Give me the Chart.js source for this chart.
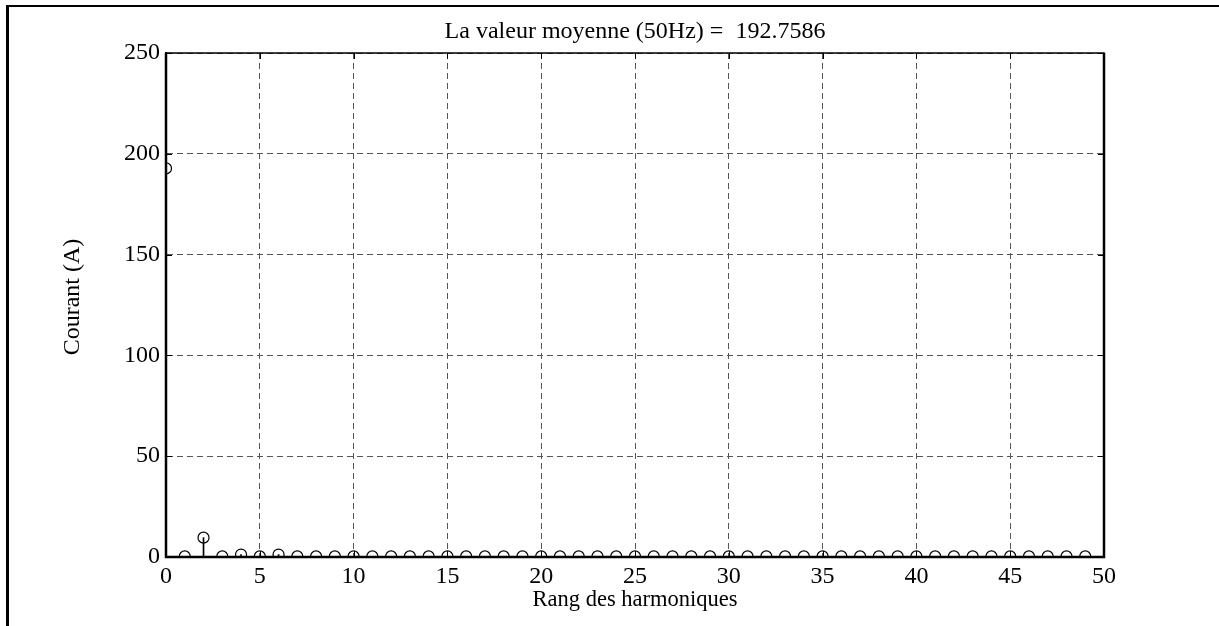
<!DOCTYPE html>
<html>
<head>
<meta charset="utf-8">
<script src="https://cdn.jsdelivr.net/npm/chart.js@4"></script>
<style>
    html, body { margin: 0; padding: 0; background: #fff; overflow: hidden; }
    .figure-frame {
        position: absolute;
        left: 6px;
        top: 5px;
        width: 1210px;
        height: 640px;
        border-top: 2px solid #000;
        border-left: 3px solid #000;
        border-right: 1px solid #d0d0d0;
    }
    #wrap { position: absolute; left: 0; top: 0; width: 1219px; height: 626px; }
</style>
</head>
<body>
<div class="figure-frame"></div>
<div id="wrap"><canvas id="harmChart" width="1219" height="626"></canvas></div>
<script>
    // harmonic rank 0..49 and current amplitude (A)
    const harmonicRanks = [
        0, 1, 2, 3, 4, 5, 6, 7, 8, 9,
        10, 11, 12, 13, 14, 15, 16, 17, 18, 19,
        20, 21, 22, 23, 24, 25, 26, 27, 28, 29,
        30, 31, 32, 33, 34, 35, 36, 37, 38, 39,
        40, 41, 42, 43, 44, 45, 46, 47, 48, 49
    ];
    const currentValues = [
        192.7586, 0.3, 9.6, 0.3, 1.2, 0.3, 1.2, 0.3, 0.3, 0.3,
        0.3, 0.3, 0.3, 0.3, 0.3, 0.3, 0.3, 0.3, 0.3, 0.3,
        0.3, 0.3, 0.3, 0.3, 0.3, 0.3, 0.3, 0.3, 0.3, 0.3,
        0.3, 0.3, 0.3, 0.3, 0.3, 0.3, 0.3, 0.3, 0.3, 0.3,
        0.3, 0.3, 0.3, 0.3, 0.3, 0.3, 0.3, 0.3, 0.3, 0.3
    ];
    const xTicks = [0, 5, 10, 15, 20, 25, 30, 35, 40, 45, 50];
    const yTicks = [0, 50, 100, 150, 200, 250];

    const titleText = 'La valeur moyenne (50Hz) =  192.7586';
    const xLabel = 'Rang des harmoniques';
    const yLabel = 'Courant (A)';

    const fontFamily = '"Liberation Serif", "Times New Roman", serif';
    const fontSize = 24;

    const points = harmonicRanks.map((r, i) => ({ x: r, y: currentValues[i] }));

    // box, inward ticks, title and axis labels (matlab style)
    const matlabAxes = {
        id: 'matlabAxes',
        beforeDatasetsDraw(chart) {
            const { ctx, chartArea: a, scales } = chart;
            ctx.save();
            ctx.strokeStyle = '#000';
            ctx.lineWidth = 1;
            ctx.beginPath();
            xTicks.forEach((t) => {
                const px = Math.round(scales.x.getPixelForValue(t)) + 0.5;
                ctx.moveTo(px, a.bottom); ctx.lineTo(px, a.bottom - 6);
                ctx.moveTo(px, a.top); ctx.lineTo(px, a.top + 6);
            });
            yTicks.forEach((t) => {
                const py = Math.round(scales.y.getPixelForValue(t)) + 0.5;
                ctx.moveTo(a.left, py); ctx.lineTo(a.left + 6, py);
                ctx.moveTo(a.right, py); ctx.lineTo(a.right - 6, py);
            });
            ctx.stroke();
            ctx.lineWidth = 1.5;
            ctx.strokeRect(a.left, a.top, a.right - a.left, a.bottom - a.top);
            ctx.lineWidth = 2.5;
            ctx.beginPath();
            ctx.moveTo(a.left, a.top); ctx.lineTo(a.left, a.bottom);
            ctx.lineTo(a.right, a.bottom); ctx.lineTo(a.right, a.top);
            ctx.stroke();

            ctx.fillStyle = '#000';
            ctx.textAlign = 'center';
            ctx.textBaseline = 'middle';
            const cx = (a.left + a.right) / 2;
            ctx.font = fontSize + 'px ' + fontFamily;
            ctx.fillText(titleText, cx, 32);
            ctx.font = '22.5px ' + fontFamily;
            ctx.fillText(xLabel, cx, 600);
            ctx.font = fontSize + 'px ' + fontFamily;
            ctx.translate(73, (a.top + a.bottom) / 2 - 8);
            ctx.rotate(-Math.PI / 2);
            ctx.fillText(yLabel, 0, 0);
            ctx.restore();
        }
    };

    new Chart(document.getElementById('harmChart'), {
        data: {
            datasets: [{
                type: 'scatter',
                data: points,
                pointStyle: 'circle',
                pointRadius: 5.5,
                pointHoverRadius: 5.5,
                pointBorderWidth: 1.2,
                pointBorderColor: '#000',
                pointBackgroundColor: 'rgba(0,0,0,0)',
                order: 0
            }, {
                type: 'bar',
                data: points,
                backgroundColor: '#000',
                barThickness: 1,
                order: 1
            }]
        },
        options: {
            responsive: false,
            animation: false,
            events: [],
            layout: { padding: { top: 53, right: 115, left: 0, bottom: 0 } },
            plugins: {
                legend: { display: false },
                tooltip: { enabled: false },
                title: { display: false }
            },
            scales: {
                x: {
                    type: 'linear',
                    min: 0,
                    max: 50,
                    offset: false,
                    afterBuildTicks(scale) {
                        scale.ticks = xTicks.map((v) => ({ value: v }));
                    },
                    afterFit(scale) { scale.height = 69; },
                    ticks: {
                        color: '#000',
                        padding: 5,
                        maxRotation: 0,
                        font: { family: fontFamily, size: fontSize }
                    },
                    grid: { color: '#555', lineWidth: 1, drawTicks: false, offset: false },
                    border: { color: '#000', width: 2, dash: [6, 4] }
                },
                y: {
                    type: 'linear',
                    min: 0,
                    max: 250,
                    afterBuildTicks(scale) {
                        scale.ticks = yTicks.map((v) => ({ value: v }));
                    },
                    afterFit(scale) { scale.width = 166; },
                    ticks: {
                        color: '#000',
                        padding: 6,
                        font: { family: fontFamily, size: fontSize }
                    },
                    grid: { color: '#555', lineWidth: 1, drawTicks: false, offset: false },
                    border: { color: '#000', width: 2, dash: [6, 4] }
                }
            }
        },
        plugins: [matlabAxes]
    });
</script>
</body>
</html>
